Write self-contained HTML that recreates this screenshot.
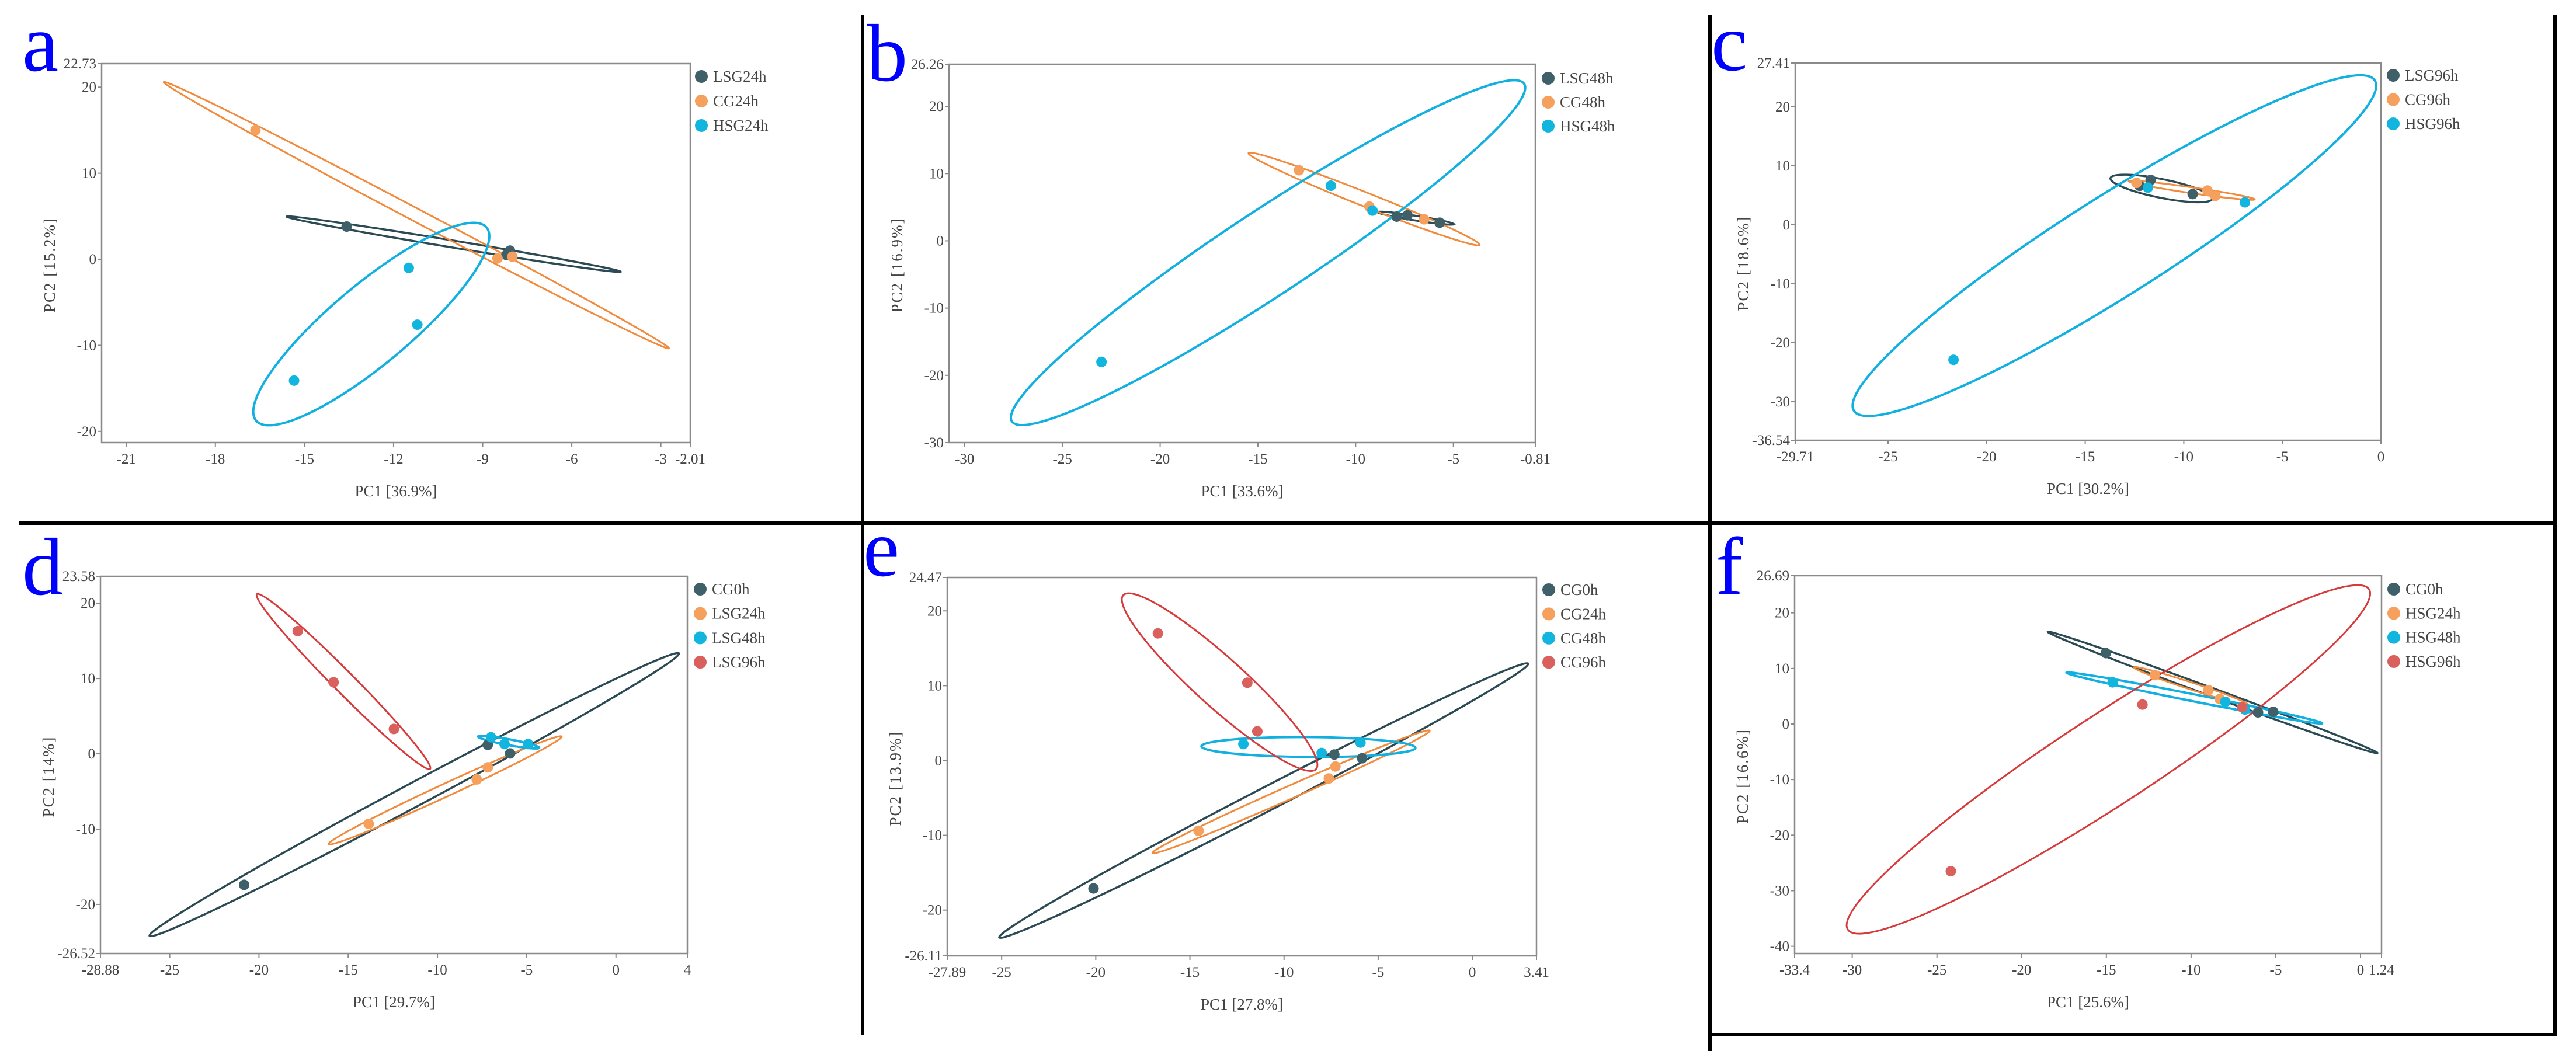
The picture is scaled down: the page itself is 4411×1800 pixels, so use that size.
<!DOCTYPE html>
<html><head><meta charset="utf-8"><title>PCA panels</title>
<style>
html,body{margin:0;padding:0;background:#fff;}
svg{display:block;font-family:"Liberation Serif",serif;}
</style></head>
<body>
<svg id="fig" xmlns="http://www.w3.org/2000/svg" width="4411" height="1800" viewBox="0 0 4411 1800">
<rect x="0" y="0" width="4411" height="1800" fill="#fff"/>
<g stroke="#000" stroke-width="6" fill="none">
<line x1="1477" y1="26" x2="1477" y2="896"/>
<line x1="2928" y1="26" x2="2928" y2="896"/>
<line x1="4375" y1="26" x2="4375" y2="896"/>
<line x1="32" y1="896" x2="4378" y2="896"/>
<line x1="1477" y1="896" x2="1477" y2="1772"/>
<line x1="2928" y1="896" x2="2928" y2="1800"/>
<line x1="4375" y1="896" x2="4375" y2="1772"/>
<line x1="2928" y1="1772" x2="4378" y2="1772"/>
</g>
</svg>
<script>
// ---------- data ----------
const aGroups = ['LSG24h','CG24h','HSG24h'];
const aPX = [[-13.58,-8.08,-8.2],[-16.65,-8.5,-8.0],[-11.49,-11.2,-15.35]];
const aPY = [[3.8,1.0,0.5],[15.0,0.1,0.3],[-1.0,-7.6,-14.1]];
const aEll = [[-15.6,4.96,-4.35,-1.45,6],[-19.74,20.6,-2.73,-10.35,11],[-8.87,3.7,-16.63,-18.75,68]];
const aXT = [-21,-18,-15,-12,-9,-6,-3,-2.01];
const aYT = [-20,-10,0,10,20,22.73];

const bGroups = ['LSG48h','CG48h','HSG48h'];
const bPX = [[-7.9,-7.35,-5.7],[-12.9,-9.3,-6.5],[-23.0,-11.27,-9.14]];
const bPY = [[3.6,3.8,2.7],[10.5,5.1,3.2],[-18.0,8.2,4.5]];
const bEll = [[-8.93,4.3,-4.94,2.45,4],[-15.48,13.05,-3.66,-0.6,12],[-1.38,23.35,-27.58,-26.86,72]];
const bXT = [-30,-25,-20,-15,-10,-5,-0.81];
const bYT = [-30,-20,-10,0,10,20,26.26];

const cGroups = ['LSG96h','CG96h','HSG96h'];
const cPX = [[-12.24,-11.68,-9.55],[-12.4,-8.8,-8.4],[-21.68,-11.82,-6.9]];
const cPY = [[6.6,7.6,5.2],[7.1,5.8,4.9],[-22.9,6.3,3.8]];
const cEll = [[-13.72,7.9,-8.55,4.4,16],[-12.8,7.4,-6.4,4.3,5],[-0.31,24.45,-26.73,-31.54,85]];
const cXT = [-29.71,-25,-20,-15,-10,-5,0];
const cYT = [-36.54,-30,-20,-10,0,10,20,27.41];

const dGroups = ['CG0h','LSG24h','LSG48h','LSG96h'];
const dPX = [[-20.83,-7.18,-5.93],[-13.85,-7.8,-7.18],[-7.0,-6.24,-4.92],[-17.83,-15.82,-12.44]];
const dPY = [[-17.4,1.2,0.05],[-9.3,-3.4,-1.8],[2.2,1.3,1.3],[16.3,9.5,3.3]];
const dEll = [[3.53,13.34,-26.13,-24.18,20],[-3.04,2.3,-16.1,-12.0,11],[-7.73,2.3,-4.3,0.8,5],[-20.12,21.2,-10.41,-2.0,18]];
const dXT = [-28.88,-25,-20,-15,-10,-5,0,4];
const dYT = [-26.52,-20,-10,0,10,20,23.58];

const eGroups = ['CG0h','CG24h','CG48h','CG96h'];
const ePX = [[-20.12,-7.33,-5.85],[-14.54,-7.27,-7.62],[-12.16,-8.0,-5.94],[-16.7,-11.95,-11.42]];
const ePY = [[-17.1,0.8,0.3],[-9.4,-0.8,-2.4],[2.2,1.0,2.4],[17.0,10.4,3.9]];
const eEll = [[2.97,12.95,-25.13,-23.66,20],[-2.26,4.0,-16.98,-12.36,11],[-14.39,1.9,-3.02,1.7,17],[-18.54,22.1,-8.3,-1.15,42]];
const eXT = [-27.89,-25,-20,-15,-10,-5,0,3.41];
const eYT = [-26.11,-20,-10,0,10,20,24.47];

const fGroups = ['CG0h','HSG24h','HSG48h','HSG96h'];
const fPX = [[-15.03,-6.05,-5.15],[-12.14,-8.98,-8.31],[-14.63,-7.98,-6.82],[-12.87,-24.18,-6.98]];
const fPY = [[12.76,2.1,2.2],[8.8,6.1,4.5],[7.5,4.0,2.6],[3.5,-26.5,3.0]];
const fEll = [[-18.46,16.6,1.0,-5.23,7],[-13.37,10.2,-6.65,3.5,6],[-17.36,9.25,-2.26,0.13,6],[0.5,24.25,-30.26,-37.0,77]];
const fXT = [-33.4,-30,-25,-20,-15,-10,-5,0,1.24];
const fYT = [-40,-30,-20,-10,0,10,20,26.69];

// ---------- layout / style ----------
const PT_COL = ['#3f5f69','#f5a05c','#12b5dd','#d9605c'];
const LN_COL = ['#2b4a53','#f28a3c','#12b0e0','#d63a3a'];
const LN_W = [3.5,3,4,3];
const NS = 'http://www.w3.org/2000/svg';
const svg = document.getElementById('fig');

const panels = [
 {id:'a', groups:aGroups, px:aPX, py:aPY, ell:aEll, xt:aXT, yt:aYT, rect:[174,109,1182,758], xd:[-21.83,-2.01], yd:[-21.3,22.73], t1:'PC1 [36.9%]', t2:'PC2 [15.2%]', letter:[38,121], leg:[1201,131,42]},
 {id:'b', groups:bGroups, px:bPX, py:bPY, ell:bEll, xt:bXT, yt:bYT, rect:[1625,110,2629,758], xd:[-30.8,-0.81], yd:[-30,26.26], t1:'PC1 [33.6%]', t2:'PC2 [16.9%]', letter:[1484,138], leg:[2651,134,41]},
 {id:'c', groups:cGroups, px:cPX, py:cPY, ell:cEll, xt:cXT, yt:cYT, rect:[3074,108,4077,754], xd:[-29.71,0], yd:[-36.54,27.41], t1:'PC1 [30.2%]', t2:'PC2 [18.6%]', letter:[2930,120], leg:[4098,129,41.5]},
 {id:'d', groups:dGroups, px:dPX, py:dPY, ell:dEll, xt:dXT, yt:dYT, rect:[172,987,1177,1633], xd:[-28.88,4], yd:[-26.52,23.58], t1:'PC1 [29.7%]', t2:'PC2 [14%]', letter:[38,1018], leg:[1199,1009,41.7]},
 {id:'e', groups:eGroups, px:ePX, py:ePY, ell:eEll, xt:eXT, yt:eYT, rect:[1622,989,2631,1637], xd:[-27.89,3.41], yd:[-26.11,24.47], t1:'PC1 [27.8%]', t2:'PC2 [13.9%]', letter:[1478,986], leg:[2652,1010,41.4]},
 {id:'f', groups:fGroups, px:fPX, py:fPY, ell:fEll, xt:fXT, yt:fYT, rect:[3073,986,4078,1633], xd:[-33.4,1.24], yd:[-41.3,26.69], t1:'PC1 [25.6%]', t2:'PC2 [16.6%]', letter:[2938,1017], leg:[4099,1009,41.3]}
];

function mk(tag, attrs, parent){
  const e = document.createElementNS(NS, tag);
  for (const k in attrs) e.setAttribute(k, attrs[k]);
  (parent||svg).appendChild(e);
  return e;
}

panels.forEach(function(p){
  const [L,T,R,B] = p.rect;
  const sx = v => L + (v - p.xd[0]) / (p.xd[1] - p.xd[0]) * (R - L);
  const sy = v => B - (v - p.yd[0]) / (p.yd[1] - p.yd[0]) * (B - T);
  const g = mk('g', {});
  
  

  const lt = mk('text', {x:p.letter[0], y:p.letter[1], 'font-size':140, fill:'#0000ff'}, g);
  lt.textContent = p.id;
  
  

  const fr = mk('rect', {x:L, y:T, width:R-L, height:B-T, fill:'none', stroke:'#8a8a8a', 'stroke-width':2.5}, g);
  
  

  p.xt.forEach(function(v){
    const x = sx(v);
    const tk = mk('line', {x1:x, y1:B, x2:x, y2:B+7, stroke:'#8a8a8a', 'stroke-width':2}, g);
    
    
    const tl = mk('text', {x:x, y:B+36, 'font-size':25, fill:'#444', 'text-anchor':'middle'}, g);
    tl.textContent = String(v);
    
    
  });
  p.yt.forEach(function(v){
    const y = sy(v);
    const tk = mk('line', {x1:L-7, y1:y, x2:L, y2:y, stroke:'#8a8a8a', 'stroke-width':2}, g);
    
    
    const tl = mk('text', {x:L-9, y:y+8, 'font-size':25, fill:'#444', 'text-anchor':'end'}, g);
    tl.textContent = String(v);
    
    
  });

  const xt = mk('text', {x:(L+R)/2, y:B+92, 'font-size':27, fill:'#444', 'text-anchor':'middle'}, g);
  xt.textContent = p.t1;
  
  
  const cy = (T+B)/2 + 20;
  const yt = mk('text', {x:L-80, y:cy, 'font-size':27, fill:'#444', 'text-anchor':'middle', 'letter-spacing':2, transform:'rotate(-90 ' + (L-80) + ' ' + cy + ')'}, g);
  yt.textContent = p.t2;
  
  

  p.ell.forEach(function(e, i){
    const x1 = sx(e[0]), y1 = sy(e[1]), x2 = sx(e[2]), y2 = sy(e[3]);
    const cx = (x1+x2)/2, cyy = (y1+y2)/2;
    const rx = Math.hypot(x2-x1, y2-y1)/2;
    const ang = Math.atan2(y2-y1, x2-x1) * 180 / Math.PI;
    const el = mk('ellipse', {cx:cx, cy:cyy, rx:rx, ry:e[4], fill:'none', stroke:LN_COL[i], 'stroke-width':LN_W[i], transform:'rotate(' + ang + ' ' + cx + ' ' + cyy + ')'}, g);
    
    
  });

  p.px.forEach(function(xs, i){
    xs.forEach(function(xv, j){
      const c = mk('circle', {cx:sx(xv), cy:sy(p.py[i][j]), r:9, fill:PT_COL[i]}, g);
      
      
    });
  });

  p.groups.forEach(function(name, i){
    const ly = p.leg[1] + i * p.leg[2];
    const lg = mk('g', {}, g);
    
    
    mk('circle', {cx:p.leg[0], cy:ly, r:11, fill:PT_COL[i]}, lg);
    const lt2 = mk('text', {x:p.leg[0]+20, y:ly+9, 'font-size':27, fill:'#444'}, lg);
    lt2.textContent = name;
  });
});
</script>
</body></html>
